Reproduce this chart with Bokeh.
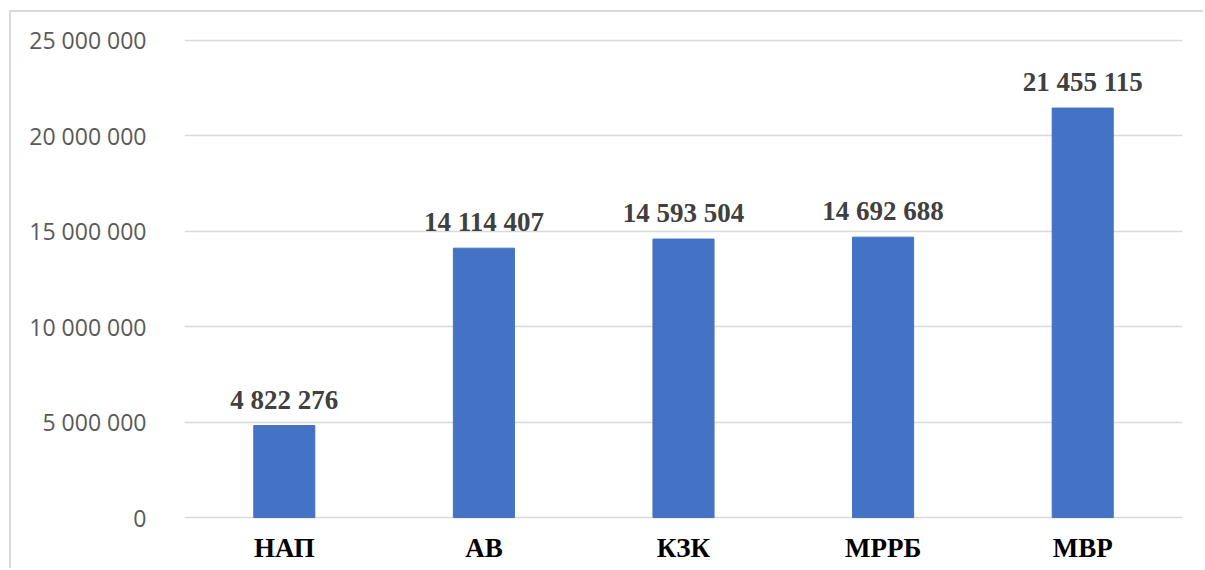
from bokeh.plotting import figure
from bokeh.models import ColumnDataSource, LabelSet, Range1d, FixedTicker
from bokeh.embed import file_html
from bokeh.resources import INLINE

categories = ["НАП", "АВ", "КЗК", "МРРБ", "МВР"]
values = [4822276, 14114407, 14593504, 14692688, 21455115]
y_ticks = [0, 5000000, 10000000, 15000000, 20000000, 25000000]
y_tick_labels = ["0", "5 000 000", "10 000 000", "15 000 000", "20 000 000", "25 000 000"]


def fmt(v):
    return f"{v:,}".replace(",", " ")


source = ColumnDataSource(dict(cat=categories, val=values, lab=[fmt(v) for v in values]))

p = figure(x_range=categories, y_range=Range1d(-100000, 25100000),
           width=1194, height=558, output_backend="svg", toolbar_location=None,
           min_border_left=173, min_border_right=23, min_border_top=26, min_border_bottom=51)
p.styles = {"margin-left": "9px", "margin-top": "10px",
            "border-left": "2px solid #d9d9d9", "border-top": "2px solid #d9d9d9"}

p.vbar(x="cat", top="val", width=0.306, source=source, color="#4472C4")

labels = LabelSet(x="cat", y="val", text="lab", source=source, y_offset=17,
                  text_align="center", text_baseline="alphabetic",
                  text_font="Liberation Serif", text_font_style="bold",
                  text_font_size="27px", text_color="#404040")
p.add_layout(labels)

p.outline_line_color = None
p.xgrid.grid_line_color = None
p.ygrid.grid_line_color = "#d9d9d9"
p.ygrid.grid_line_width = 1.5
p.yaxis.ticker = FixedTicker(ticks=y_ticks)
p.yaxis.major_label_overrides = {t: l for t, l in zip(y_ticks, y_tick_labels)}
p.yaxis.axis_line_color = None
p.yaxis.major_tick_line_color = None
p.yaxis.minor_tick_line_color = None
p.yaxis.major_label_standoff = 32
p.yaxis.major_label_text_font = "Open Sans"
p.yaxis.major_label_text_font_size = "23px"
p.yaxis.major_label_text_color = "#595959"

p.xaxis.axis_line_color = None
p.xaxis.major_tick_line_color = None
p.xaxis.minor_tick_line_color = None
p.xaxis.major_label_standoff = 7
p.xaxis.major_label_text_font = "Liberation Serif"
p.xaxis.major_label_text_font_style = "bold"
p.xaxis.major_label_text_font_size = "27px"
p.xaxis.major_label_text_color = "#000000"

open("out.html", "w").write(file_html(p, INLINE))
